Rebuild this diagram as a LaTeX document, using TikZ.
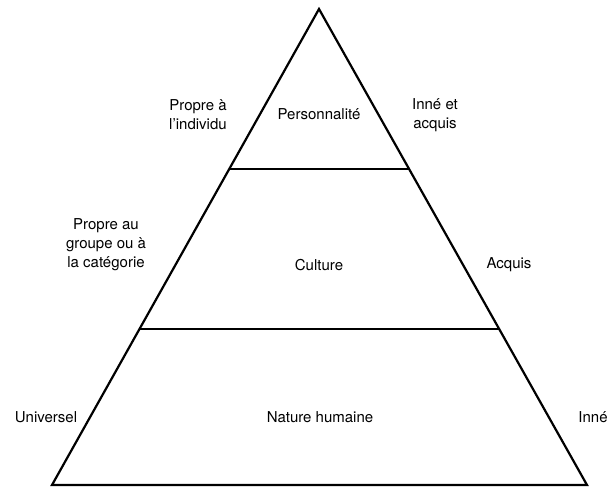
\documentclass[tikz,border=0pt]{standalone}
\usepackage{fontspec}
\setmainfont{TeX Gyre Heros}
\usetikzlibrary{calc}
\begin{document}
\begin{tikzpicture}[x=1pt,y=-1pt,
    txt/.style={font=\fontsize{15}{19}\selectfont, align=center, inner sep=0pt},
    edge/.style={line width=2.2pt}]
    \useasboundingbox (0,0) rectangle (611,487);
    % Pyramid
    \coordinate (top) at (319,9);
    \coordinate (bl) at (52,485);
    \coordinate (br) at (587,485);
    \draw[edge] (top) -- (bl) -- (br) -- cycle;
    % Layers
    \draw[edge] ($(top)!.336!(bl)$) -- ($(top)!.336!(br)$);
    \draw[edge] ($(top)!.672!(bl)$) -- ($(top)!.672!(br)$);
    % Levels
    \node[txt] (perso) at (319,114) {Personnalité};
    \node[txt] (cult) at (319,265) {Culture};
    \node[txt] (nat) at (320,417) {Nature humaine};
    % Left side
    \node[txt] (indiv) at (198,115) {Propre à\\l’individu};
    \node[txt] (groupe) at (106,245) {Propre au\\groupe ou à\\la catégorie};
    \node[txt] (univ) at (46,417) {Universel};
    % Right side
    \node[txt] (innacq) at (435,115) {Inné et\\acquis};
    \node[txt] (acq) at (509,265) {Acquis};
    \node[txt] (inne) at (593,417) {Inné};
\end{tikzpicture}
\end{document}
